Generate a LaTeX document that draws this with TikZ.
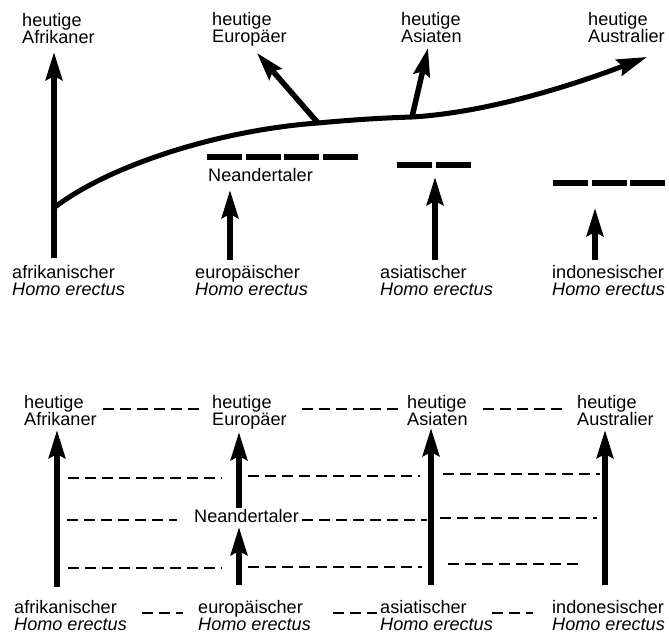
\documentclass[tikz,border=0pt]{standalone}
\usepackage{fontspec}
\setmainfont{Liberation Sans}
\usetikzlibrary{arrows.meta}
\begin{document}
\begin{tikzpicture}[x=1pt,y=-1pt,
  lbl/.style={anchor=north west, inner sep=0pt, align=left, font=\fontsize{18.1}{17.5}\selectfont},
  bigarrow/.style={line width=5.5pt, -{Stealth[length=28pt,width=16.5pt,inset=4pt]}},
  maincurve/.style={line width=5pt, -{Stealth[length=30pt,width=17pt,inset=4pt]}},
  thickdash/.style={line width=6pt, dash pattern=on 35pt off 3.7pt},
  thindash/.style={line width=1.45pt, dash pattern=on 10.5pt off 6.5pt}]
\useasboundingbox[fill=white] (0,0) rectangle (669,635);

% ---------- upper diagram ----------
\node[lbl] (tAfr) at (22,13) {heutige\\Afrikaner};
\node[lbl] (tEur) at (212,12) {heutige\\Europäer};
\node[lbl] (tAsi) at (401,12) {heutige\\Asiaten};
\node[lbl] (tAus) at (588,12) {heutige\\Australier};

\node[lbl] (bAfr) at (12,265) {afrikanischer\\\textit{Homo erectus}};
\node[lbl] (bEur) at (195,265) {europäischer\\\textit{Homo erectus}};
\node[lbl] (bAsi) at (380,265) {asiatischer\\\textit{Homo erectus}};
\node[lbl] (bInd) at (552,265) {indonesischer\\\textit{Homo erectus}};
\node[lbl] (tNea) at (208,168) {Neandertaler};

\coordinate (afr0) at (54,258);
\coordinate (afr1) at (54,52);
\coordinate (split) at (55,207);
\coordinate (eurB) at (318,123);
\coordinate (eurT) at (257,53);
\coordinate (asiB) at (412,117);
\coordinate (asiT) at (428,48);
\coordinate (ausT) at (647,57);

\draw[bigarrow] (afr0) -- (afr1);
\draw[maincurve] (split) .. controls (110,165) and (220,130) .. (eurB)
  .. controls (350,120) and (380,118) .. (asiB)
  .. controls (480,113) and (560,90) .. (ausT);
\draw[bigarrow] (eurB) -- (eurT);
\draw[bigarrow] (asiB) -- (asiT);

\draw[bigarrow] (230,260) coordinate (e0) -- (230,190) coordinate (e1);
\draw[bigarrow] (435,260) coordinate (s0) -- (435,177) coordinate (s1);
\draw[bigarrow] (595,260) coordinate (i0) -- (595,208) coordinate (i1);

\draw[thickdash] (207,157) coordinate (n0) -- (357.5,157) coordinate (n1);
\draw[thickdash] (397,165) coordinate (m0) -- (472,165) coordinate (m1);
\draw[thickdash] (553,183) coordinate (k0) -- (669,183) coordinate (k1);

% ---------- lower diagram ----------
\node[lbl] (tAfr2) at (24,395) {heutige\\Afrikaner};
\node[lbl] (tEur2) at (212,395) {heutige\\Europäer};
\node[lbl] (tAsi2) at (407,395) {heutige\\Asiaten};
\node[lbl] (tAus2) at (577,395) {heutige\\Australier};

\node[lbl] (bAfr2) at (14,600) {afrikanischer\\\textit{Homo erectus}};
\node[lbl] (bEur2) at (198,600) {europäischer\\\textit{Homo erectus}};
\node[lbl] (bAsi2) at (380,600) {asiatischer\\\textit{Homo erectus}};
\node[lbl] (bInd2) at (552,600) {indonesischer\\\textit{Homo erectus}};
\node[lbl] (tNea2) at (194,509) {Neandertaler};

\draw[bigarrow] (57,587) -- (57,430);
\draw[bigarrow] (239,508) -- (239,432);
\draw[bigarrow] (239,585) -- (239,527);
\draw[bigarrow] (431,585) -- (431,428);
\draw[bigarrow] (605,585) -- (605,430);

% dashed lines
\draw[thindash] (103,409) -- (200,409);
\draw[thindash] (302,409) -- (399,409);
\draw[thindash] (483,409) -- (562,409);

\draw[thindash] (68,478) -- (222,478);
\draw[thindash] (248,476) -- (420,476);
\draw[thindash] (443,474) -- (600,474);

\draw[thindash] (67,520) -- (177,520);
\draw[thindash] (302,520) -- (427,520);
\draw[thindash] (440,518) -- (597,518);

\draw[thindash] (68,568) -- (222,568);
\draw[thindash] (248,567) -- (422,567);
\draw[thindash] (448,564) -- (580,564);

\draw[thindash] (142,613) -- (183,613);
\draw[thindash] (333,613) -- (377,613);
\draw[thindash] (492,613) -- (533,613);
\end{tikzpicture}
\end{document}
